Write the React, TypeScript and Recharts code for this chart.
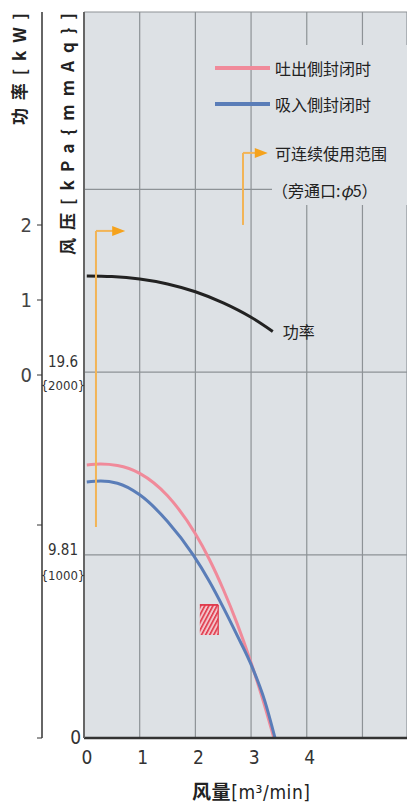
import React from 'react';
import {
  ComposedChart, Line, XAxis, YAxis, CartesianGrid, Legend,
  ReferenceLine, ReferenceArea, ReferenceDot,
} from 'recharts';

// flow [m3/min] ticks
const flowTicks = [0, 1, 2, 3, 4, 5];
// pressure [kPa] ticks, labels with {mmAq}
const pressureTicks = [0, 9.81, 19.6, 29.4, 38.9];
const pressureLabels: Record<string, string[]> = {
  '0': ['0'],
  '9.81': ['9.81', '{1000}'],
  '19.6': ['19.6', '{2000}'],
};
// power [kW] ticks (only 0..2 carry a label)
const powerTicks = [-4.84, -2, 0, 1, 2];
const powerLabels = [0, 1, 2];

// 吐出側封闭时
const dischargeFlow = [0.05, 0.3, 0.6, 1, 1.5, 2, 2.25, 2.5, 2.75, 3, 3.2, 3.41];
const dischargePressure = [14.63, 14.68, 14.6, 14.18, 12.98, 10.94, 9.58, 7.97, 6.13, 4.03, 2.17, 0];
// 吸入側封闭时
const suctionFlow = [0.05, 0.3, 0.6, 1, 1.5, 1.96, 2.25, 2.5, 2.75, 3.02, 3.25, 3.43];
const suctionPressure = [13.72, 13.77, 13.65, 13.03, 11.6, 9.81, 8.4, 7.0, 5.5, 3.8, 1.95, 0];
// 功率
const powerFlow = [0.05, 0.5, 1, 1.5, 2, 2.5, 3, 3.39];
const powerKw = [1.32, 1.312, 1.28, 1.214, 1.11, 0.962, 0.77, 0.58];

// 可连续使用范围 arrows (flow, pressure from, pressure to, arrow tip flow)
const rangeArrow = { q: 0.215, low: 11.31, high: 27.17, tip: 0.74 };
const legendArrow = { q: 2.855, low: 27.49, high: 31.35, tip: 3.3 };
// hatched box
const hatchBox = { q1: 2.08, q2: 2.41, p1: 5.52, p2: 7.13 };

const dischargeData = dischargeFlow.map((q, i) => ({ q, p: dischargePressure[i] }));
const suctionData = suctionFlow.map((q, i) => ({ q, p: suctionPressure[i] }));
const powerData = powerFlow.map((q, i) => ({ q, w: powerKw[i] }));

const plotBg = '#dde1e5';
const red = '#f08a9a';
const blue = '#5a7db8';
const orangeLine = '#f2b457';
const orangeHead = '#f5a21c';
const numFont = "'Liberation Sans Narrow', 'DejaVu Sans Condensed', 'Liberation Sans', sans-serif";
const cjkFont = "'Noto Sans CJK SC', 'Noto Sans', sans-serif";

const XTick = (props: any) => {
  const { x, y, payload } = props;
  if (payload.value > 4) return null;
  return (
    <text x={x + 3} y={y} dy={18} textAnchor="middle" fontSize={19} fill="#333" fontFamily={numFont}
      style={{ fontStretch: 'condensed' }}>
      {payload.value}
    </text>
  );
};

const PressureTick = (props: any) => {
  const { x, y, payload } = props;
  const lines = pressureLabels[String(payload.value)];
  if (!lines) return null;
  if (lines.length === 1) {
    return (
      <text x={x + 5} y={y} dy={6} textAnchor="end" fontSize={19} fill="#333" fontFamily={numFont}
        style={{ fontStretch: 'condensed' }}>
        {lines[0]}
      </text>
    );
  }
  const off = payload.value > 15 ? [-10, 13] : [-5, 20];
  return (
    <g fontFamily={numFont} fill="#333" textAnchor="middle" style={{ fontStretch: 'condensed' }}>
      <text x={x - 13} y={y + off[0]} dy={5} fontSize={15}>{lines[0]}</text>
      <text x={x - 13} y={y + off[1]} dy={5} fontSize={13}>{lines[1]}</text>
    </g>
  );
};

const PowerTick = (props: any) => {
  const { x, y, payload } = props;
  if (!powerLabels.includes(payload.value)) return null;
  return (
    <text x={x - 3} y={y} dy={7} textAnchor="end" fontSize={20} fill="#444" fontFamily={numFont}
      style={{ fontStretch: 'condensed' }}>
      {payload.value}
    </text>
  );
};

const ArrowLine = (props: any) => {
  const { x1, y1, x2, y2 } = props;
  return (
    <g>
      <line x1={x1} y1={y1} x2={x2 - 11} y2={y2} stroke={orangeLine} strokeWidth={2} />
      <path d={`M${x2 - 13},${y2 - 5} L${x2},${y2} L${x2 - 13},${y2 + 5} Z`} fill={orangeHead} />
    </g>
  );
};

const HatchShape = (props: any) => {
  const { x, y, width, height } = props;
  return (
    <g>
      <defs>
        <pattern id="hatch" patternUnits="userSpaceOnUse" width={3.6} height={4} patternTransform="rotate(28)">
          <line x1={0.8} y1={0} x2={0.8} y2={4} stroke="#e0384a" strokeWidth={1.6} />
        </pattern>
      </defs>
      <rect x={x} y={y} width={width} height={height} fill="#f2c4ca" />
      <rect x={x} y={y} width={width} height={height} fill="url(#hatch)" />
      <line x1={x} y1={y} x2={x + width} y2={y} stroke="#e0384a" strokeWidth={1.8} />
      <line x1={x + width} y1={y} x2={x + width} y2={y + height} stroke="#e0384a" strokeWidth={1.2} />
    </g>
  );
};

const PowerLabel = (props: any) => (
  <text x={props.cx} y={props.cy} dy={6} fontSize={16} fill="#222" fontFamily={cjkFont}>功率</text>
);

const renderLegend = () => {
  const text = { position: 'absolute' as const, left: 65, fontSize: 16, lineHeight: '20px', color: '#222', whiteSpace: 'nowrap' as const };
  return (
    <div style={{ position: 'relative', width: 197, height: 160, fontFamily: cjkFont }}>
      <div style={{ position: 'absolute', left: 62, top: 0, width: 135, height: 160, background: plotBg }} />
      <div style={{ position: 'absolute', left: 5, top: 21, width: 55, height: 4, background: red }} />
      <div style={{ ...text, top: 13 }}>吐出側封闭时</div>
      <div style={{ position: 'absolute', left: 5, top: 57, width: 55, height: 4, background: blue }} />
      <div style={{ ...text, top: 49 }}>吸入側封闭时</div>
      <div style={{ ...text, top: 98 }}>可连续使用范围</div>
      <div style={{ ...text, top: 135, left: 62 }}>（旁通口:<i>φ</i>5）</div>
    </div>
  );
};

const XTitle = (props: any) => {
  const vb = props.viewBox;
  return (
    <text x={vb.x + 167} y={vb.y + 61} textAnchor="middle" fontSize={19} fill="#222" fontFamily={cjkFont} textLength={118}>
      <tspan fontWeight="bold">风量</tspan>
      <tspan fontFamily={numFont}>[m³/min]</tspan>
    </text>
  );
};

const PowerTitle = () => (
  <text x={18} y={69} transform="rotate(-90 18 69)" textAnchor="middle" dominantBaseline="central"
    fontSize={17} fontWeight="bold" fill="#222" fontFamily={cjkFont} textLength={112} lengthAdjust="spacing">
    功率[kW]
  </text>
);

const PressureTitle = () => (
  <text x={66} y={134} transform="rotate(-90 66 134)" textAnchor="middle" dominantBaseline="central"
    fontSize={17} fontWeight="bold" fill="#222" fontFamily={cjkFont} textLength={242} lengthAdjust="spacing">
    风压[kPa{'{'}mmAq{'}'}]
  </text>
);

export default function App() {
  return (
    <div style={{ position: 'absolute', left: 0, top: 0, background: '#fff' }}>
      <ComposedChart width={407} height={806} margin={{ top: 12, right: 0, bottom: 0, left: 0 }}>
        <CartesianGrid yAxisId="p" fill={plotBg} stroke="#8d9296" strokeWidth={1.2} />
        <XAxis dataKey="q" type="number" domain={[0, 5.8]} ticks={flowTicks} allowDataOverflow
          height={68} tickLine={false} tick={<XTick />} axisLine={{ stroke: '#333', strokeWidth: 2.5 }}
          label={<XTitle />} />
        <YAxis yAxisId="p" type="number" domain={[0, 38.9]} ticks={pressureTicks} allowDataOverflow
          width={42} tickLine={false} tick={<PressureTick />} axisLine={{ stroke: '#666', strokeWidth: 2 }}
          label={<PressureTitle />} />
        <YAxis yAxisId="w" type="number" domain={[-4.84, 4.84]} ticks={powerTicks} allowDataOverflow
          width={42} tickSize={5} tickLine={{ stroke: '#333' }} tick={<PowerTick />}
          axisLine={{ stroke: '#333', strokeWidth: 1.5 }} label={<PowerTitle />} />
        <Legend content={renderLegend} layout="horizontal" verticalAlign="middle" align="center"
          wrapperStyle={{ position: 'absolute', left: 210, top: 45, width: 197, height: 160, margin: 0, padding: 0 }} />
        <ReferenceArea yAxisId="p" x1={hatchBox.q1} x2={hatchBox.q2} y1={hatchBox.p1} y2={hatchBox.p2} shape={<HatchShape />} />
        <Line yAxisId="w" data={powerData} dataKey="w" type="monotone" stroke="#222" strokeWidth={3}
          dot={false} isAnimationActive={false} />
        <Line yAxisId="p" data={dischargeData} dataKey="p" type="monotone" stroke={red} strokeWidth={3}
          dot={false} isAnimationActive={false} />
        <Line yAxisId="p" data={suctionData} dataKey="p" type="monotone" stroke={blue} strokeWidth={3}
          dot={false} isAnimationActive={false} />
        <ReferenceLine yAxisId="p" segment={[{ x: rangeArrow.q, y: rangeArrow.low }, { x: rangeArrow.q, y: rangeArrow.high }]}
          stroke={orangeLine} strokeWidth={2} />
        <ReferenceLine yAxisId="p" segment={[{ x: rangeArrow.q, y: rangeArrow.high }, { x: rangeArrow.tip, y: rangeArrow.high }]}
          shape={<ArrowLine />} />
        <ReferenceLine yAxisId="p" segment={[{ x: legendArrow.q, y: legendArrow.low }, { x: legendArrow.q, y: legendArrow.high }]}
          stroke={orangeLine} strokeWidth={2} />
        <ReferenceLine yAxisId="p" segment={[{ x: legendArrow.q, y: legendArrow.high }, { x: legendArrow.tip, y: legendArrow.high }]}
          shape={<ArrowLine />} />
        <ReferenceDot yAxisId="w" x={3.57} y={0.57} shape={<PowerLabel />} />
      </ComposedChart>
    </div>
  );
}
